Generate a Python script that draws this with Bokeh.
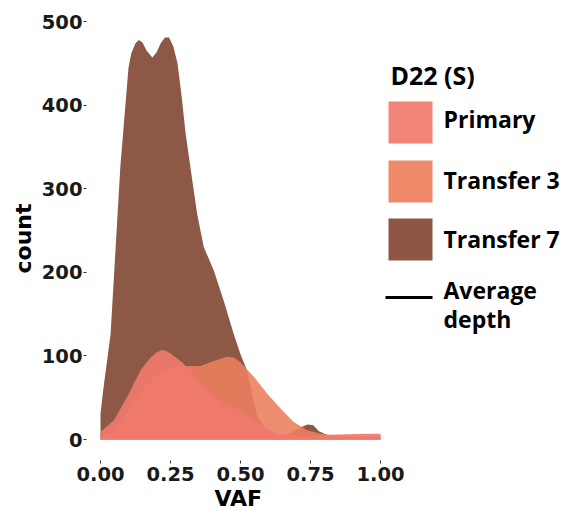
from bokeh.plotting import figure
from bokeh.models import Range1d, FixedTicker, Title
from bokeh.core.properties import value
from bokeh.embed import file_html
from bokeh.resources import INLINE

# ---- data ----
t7_vaf = [0.0, 0.01, 0.036, 0.071, 0.10, 0.11, 0.125, 0.137, 0.15, 0.165, 0.185, 0.20, 0.215,
          0.23, 0.245, 0.26, 0.275, 0.29, 0.304, 0.321, 0.345, 0.369, 0.405, 0.44, 0.476,
          0.50, 0.524, 0.56, 0.60, 0.64, 0.68, 0.71, 0.74, 0.76, 0.78, 0.82, 0.9, 1.0]
t7_count = [31, 60, 126, 327, 445, 462, 474, 478, 475, 465, 457, 463, 474,
            481, 481, 470, 450, 410, 366, 326, 270, 230, 202, 166, 126,
            102, 82, 27, 8, 4, 8, 14, 18, 17, 10, 4, 3, 3]

t3_vaf = [0.0, 0.05, 0.10, 0.15, 0.20, 0.25, 0.31, 0.357, 0.405, 0.452, 0.476, 0.50, 0.548,
          0.595, 0.643, 0.69, 0.738, 0.786, 0.83, 0.9, 1.0]
t3_count = [2, 10, 35, 60, 78, 86, 88, 88, 94, 99, 98, 92, 75,
            55, 37, 21, 11, 7, 5, 4, 4]

pr_vaf = [0.0, 0.048, 0.095, 0.143, 0.179, 0.20, 0.22, 0.235, 0.25, 0.286, 0.321, 0.357, 0.405,
          0.452, 0.5, 0.536, 0.583, 0.63, 0.68, 0.75, 0.85, 0.95, 1.0]
pr_count = [9, 23, 51, 83, 98, 104, 107, 106, 103, 94, 83, 67, 51,
            41, 35, 27, 15, 7, 5, 5, 6, 7, 7]

x_ticks = [0.0, 0.25, 0.5, 0.75, 1.0]
x_tick_labels = ["0.00", "0.25", "0.50", "0.75", "1.00"]
y_ticks = [0, 100, 200, 300, 400, 500]

x_title = "VAF"
y_title = "count"
legend_title = "D22 (S)"
series_names = ["Primary", "Transfer 3", "Transfer 7"]
line_label = ["Average", "depth"]

C_PR = "#F07A6C"
C_T3 = "#EC805E"
C_T7 = "#8E5847"
SW_PR = "#F28478"
SW_T3 = "#EE8A6A"
SW_T7 = "#8E5647"

# ---- layout constants (page pixels) ----
W, H = 574, 511
FL, FT, FB = 86, 16, 460       # frame left / top / bottom
X0, PX_PER_UNIT = 100, 280.0   # page x of VAF 0, pixels per VAF unit

p = figure(width=W, height=H, output_backend="svg", toolbar_location=None,
           x_range=Range1d(-(X0 - FL) / PX_PER_UNIT, (W - X0) / PX_PER_UNIT),
           y_range=Range1d(-25.1, 506),
           min_border_left=FL, min_border_right=0, min_border_top=FT,
           min_border_bottom=H - FB)
p.extra_x_ranges = {"px": Range1d(FL, W)}
p.extra_y_ranges = {"px": Range1d(FB, FT)}
p.outline_line_color = None
p.xgrid.visible = False
p.ygrid.visible = False
p.background_fill_color = "white"
p.border_fill_color = "white"

p.varea(x=t7_vaf, y1=0, y2=t7_count, fill_color=C_T7, fill_alpha=1.0)
p.varea(x=t3_vaf, y1=0, y2=t3_count, fill_color=C_T3, fill_alpha=0.89)
p.varea(x=pr_vaf, y1=0, y2=pr_count, fill_color=C_PR, fill_alpha=0.92)

for ax in (p.xaxis[0], p.yaxis[0]):
    ax.axis_line_color = None
    ax.major_tick_line_color = "#333333"
    ax.major_tick_out = 3
    ax.major_tick_in = 0
    ax.minor_tick_line_color = None
    ax.major_label_text_font = "DejaVu Sans"
    ax.major_label_text_font_style = "bold"
    ax.major_label_text_font_size = "19.5px"
    ax.major_label_text_color = "#1a1a1a"
    ax.axis_label_text_font = "DejaVu Sans"
    ax.axis_label_text_font_style = "bold"
    ax.axis_label_text_font_size = "22px"
    ax.axis_label_text_color = "black"

p.xaxis.ticker = FixedTicker(ticks=x_ticks)
p.xaxis.major_label_overrides = {t: l for t, l in zip(x_ticks, x_tick_labels)}
p.yaxis.ticker = FixedTicker(ticks=y_ticks)
p.yaxis.axis_label = y_title
p.xaxis.major_label_standoff = 3
p.yaxis.major_label_standoff = 1
p.yaxis.axis_label_standoff = 3

# x title centred under the 0..1 span (the frame extends further right for the legend)
p.add_layout(Title(text=x_title, align="left", offset=214 - FL, standoff=0,
                   text_font="DejaVu Sans", text_font_style="bold", text_font_size="22px",
                   text_color="black"), "below")

# ---- legend (drawn in page-pixel coordinates on the "px" ranges) ----
kw = dict(x_range_name="px", y_range_name="px")
sw_top = [101, 160, 218]
p.quad(left=[388] * 3, right=[432] * 3, top=sw_top, bottom=[t + 42 for t in sw_top],
       fill_color=[SW_PR, SW_T3, SW_T7], line_color=None, **kw)
p.segment(x0=[385], y0=[297], x1=[432], y1=[297], line_color="black", line_width=3, **kw)

font = value("Open Sans")
fs = "23px"
dy = -9
p.text(x=[390], y=[83 + dy], text=[legend_title], text_font=font, text_font_style="bold",
       text_font_size="25px", text_color="black", text_baseline="alphabetic", **kw)
p.text(x=[443] * 3, y=[127 + dy, 188 + dy, 247 + dy], text=series_names, text_font=font,
       text_font_style="bold", text_font_size=fs, text_color="black",
       text_baseline="alphabetic", **kw)
p.text(x=[443] * 2, y=[298 + dy, 327 + dy], text=line_label, text_font=font,
       text_font_style="bold", text_font_size=fs, text_color="black",
       text_baseline="alphabetic", **kw)

open("out.html", "w").write(file_html(p, INLINE))
